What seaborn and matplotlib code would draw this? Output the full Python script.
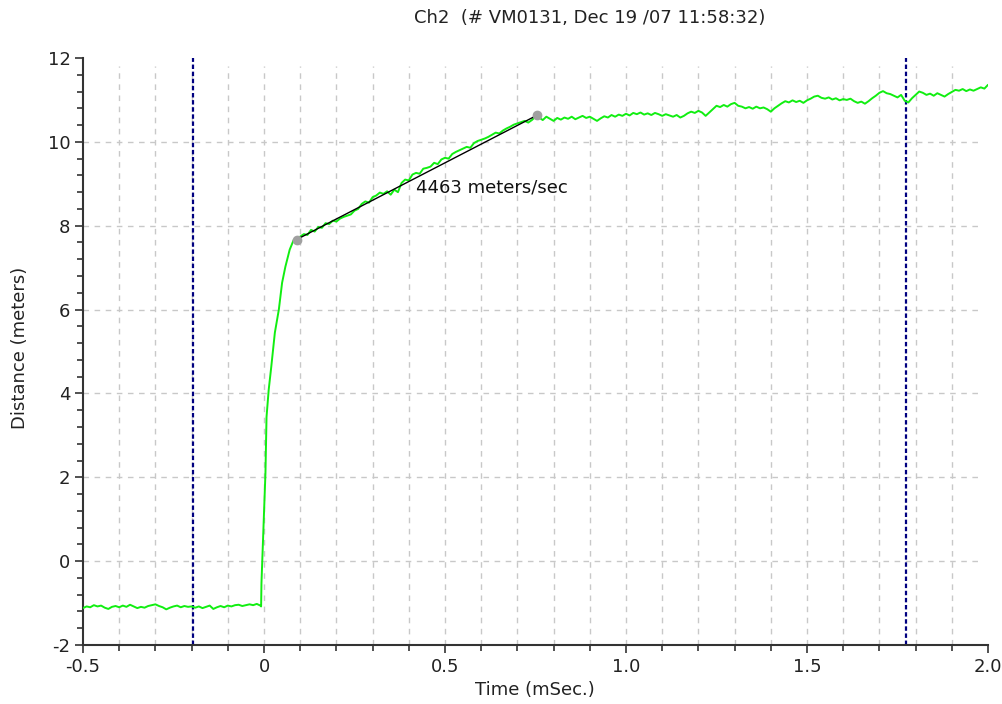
import numpy as np
import pandas as pd
import matplotlib
matplotlib.use("Agg")
import matplotlib.pyplot as plt
import seaborn as sns

# ---- measured trace (time in ms, distance in m) ----
pre_time = np.round(np.arange(-0.50, -0.005, 0.01), 3)
pre_dist = [-1.12, -1.08, -1.10, -1.05, -1.08, -1.06, -1.11, -1.14, -1.09, -1.07,
            -1.10, -1.06, -1.09, -1.04, -1.08, -1.12, -1.09, -1.11, -1.07, -1.05,
            -1.03, -1.07, -1.10, -1.15, -1.11, -1.08, -1.06, -1.10, -1.07, -1.09,
            -1.08, -1.11, -1.08, -1.12, -1.09, -1.06, -1.14, -1.10, -1.07, -1.10,
            -1.06, -1.08, -1.05, -1.04, -1.07, -1.05, -1.03, -1.05, -1.02, -1.06]

rise_time = [-0.008, -0.007, -0.002, 0.004, 0.007, 0.013, 0.020, 0.030,
             0.041, 0.050, 0.059, 0.071, 0.082, 0.090]
rise_dist = [-1.08, -0.52, 0.67, 2.10, 3.44, 4.09, 4.63, 5.45,
             6.00, 6.64, 7.02, 7.43, 7.66, 7.67]

ramp_time = np.round(np.arange(0.10, 0.755, 0.01), 3)
ramp_dist = [7.74, 7.80, 7.78, 7.90, 7.86, 7.97, 7.95, 8.06, 8.04, 8.12,
             8.10, 8.17, 8.21, 8.24, 8.27, 8.36, 8.40, 8.52, 8.58, 8.55,
             8.68, 8.72, 8.79, 8.76, 8.82, 8.74, 8.86, 8.80, 9.02, 9.10,
             9.08, 9.22, 9.26, 9.24, 9.36, 9.38, 9.41, 9.50, 9.47, 9.58,
             9.62, 9.60, 9.71, 9.76, 9.80, 9.84, 9.88, 9.86, 9.97, 10.02,
             10.05, 10.08, 10.12, 10.17, 10.22, 10.20, 10.27, 10.32, 10.36, 10.41,
             10.44, 10.47, 10.50, 10.46, 10.52, 10.60]

post_time = np.round(np.arange(0.76, 2.005, 0.01), 3)
post_dist = [10.58, 10.52, 10.60, 10.55, 10.50, 10.57, 10.53, 10.58, 10.55, 10.60,
             10.54, 10.58, 10.62, 10.57, 10.60, 10.55, 10.50, 10.56, 10.61, 10.58,
             10.64, 10.60, 10.65, 10.62, 10.67, 10.63, 10.69, 10.66, 10.70, 10.65,
             10.68, 10.64, 10.69, 10.66, 10.62, 10.66, 10.63, 10.60, 10.64, 10.58,
             10.62, 10.68, 10.72, 10.69, 10.74, 10.70, 10.62, 10.70, 10.78, 10.86,
             10.83, 10.88, 10.84, 10.90, 10.93, 10.86, 10.84, 10.80, 10.83, 10.79,
             10.84, 10.80, 10.82, 10.78, 10.72, 10.80, 10.86, 10.92, 10.97, 10.94,
             10.99, 10.95, 10.98, 10.93, 10.99, 11.03, 11.08, 11.10, 11.05, 11.03,
             11.06, 11.01, 11.04, 10.99, 11.02, 11.00, 11.03, 10.97, 10.93, 10.96,
             10.91, 10.97, 11.04, 11.10, 11.17, 11.21, 11.16, 11.14, 11.10, 11.06,
             11.12, 10.98, 10.94, 11.04, 11.12, 11.20, 11.17, 11.12, 11.15, 11.10,
             11.16, 11.12, 11.08, 11.14, 11.19, 11.24, 11.22, 11.26, 11.21, 11.25,
             11.22, 11.26, 11.30, 11.27, 11.36]

# velocity fit between two cursor points
fit_t_start, fit_d_start = 0.090, 7.67
fit_t_end = 0.755
velocity_mps = 4463
fit_d_end = fit_d_start + velocity_mps / 1000.0 * (fit_t_end - fit_t_start)

# vertical marker cursors
marker_times = [-0.195, 1.773]

title_text = "Ch2  (# VM0131, Dec 19 /07 11:58:32)"
x_label = "Time (mSec.)"
y_label = "Distance (meters)"
x_major = [-0.5, 0.0, 0.5, 1.0, 1.5, 2.0]
x_major_labels = ["-0.5", "0", "0.5", "1.0", "1.5", "2.0"]
y_major = [-2, 0, 2, 4, 6, 8, 10, 12]

trace = pd.DataFrame({
    "time": np.concatenate([pre_time, rise_time, ramp_time, post_time]),
    "distance": np.concatenate([pre_dist, rise_dist, ramp_dist, post_dist]),
})

sns.set_style("white")
plt.rcParams["font.family"] = ["DejaVu Sans"]
plt.rcParams["axes.unicode_minus"] = False
FS = 13

fig = plt.figure(figsize=(10.02, 7.04), dpi=100)
ax = fig.add_axes([83 / 1002, 1 - 645 / 704, (988 - 83) / 1002, (645 - 58) / 704])

ax.set_xlim(-0.5, 2.0)
ax.set_ylim(-2, 12)

grid_kw = dict(color="#c8c8c8", linewidth=1.0, linestyles=(0, (4, 4)), zorder=1)
x_minor = np.round(np.arange(-0.4, 2.0, 0.1), 2)
ax.vlines(x_minor, -2, 11.8, **grid_kw)
ax.hlines([y for y in y_major if -2 < y < 12], -0.5, 1.98, **grid_kw)

ax.vlines(marker_times, -2, 12, colors="#000080", linewidth=1.6,
          linestyles=(0, (2, 1.2)), zorder=2)

sns.lineplot(data=trace, x="time", y="distance", ax=ax, color="#11ee11",
             linewidth=1.4, estimator=None, sort=False, zorder=3)

ax.plot([fit_t_start, fit_t_end], [fit_d_start, fit_d_end], color="black",
        linewidth=1.0, zorder=4)
ax.plot([fit_t_start, fit_t_end], [fit_d_start, fit_d_end], linestyle="none",
        marker="o", markersize=6, color="#a0a0a0", zorder=5)
ax.text(0.421, 8.9, f"{velocity_mps} meters/sec", fontsize=FS, ha="left",
        va="center", color="#111111", zorder=6)

ax.set_xticks(x_major)
ax.set_xticklabels(x_major_labels)
ax.set_xticks(np.round(np.arange(-0.5, 2.01, 0.1), 2), minor=True)
ax.set_yticks(y_major)
ax.set_yticks(np.round(np.arange(-2, 12.01, 0.4), 2), minor=True)
ax.tick_params(axis="both", which="major", length=6, width=1.2, color="#333333",
               labelsize=FS, labelcolor="#222222", direction="out", pad=3,
               left=True, bottom=True)
ax.tick_params(axis="both", which="minor", length=4, width=1.2, color="#333333",
               direction="out", left=True, bottom=True)

for side in ("top", "right"):
    ax.spines[side].set_visible(False)
for side in ("left", "bottom"):
    ax.spines[side].set_color("#333333")
    ax.spines[side].set_linewidth(1.5)

ax.set_xlabel("")
ax.set_ylabel("")
fig.text(535 / 1002, 1 - 690 / 704, x_label, ha="center", va="center",
         fontsize=FS, color="#222222")
fig.text(20 / 1002, 1 - 348 / 704, y_label, ha="center", va="center",
         rotation=90, fontsize=FS, color="#222222")
fig.text(590 / 1002, 1 - 18 / 704, title_text, ha="center", va="center",
         fontsize=FS, color="#222222")

fig.savefig("out.png", dpi=100)
